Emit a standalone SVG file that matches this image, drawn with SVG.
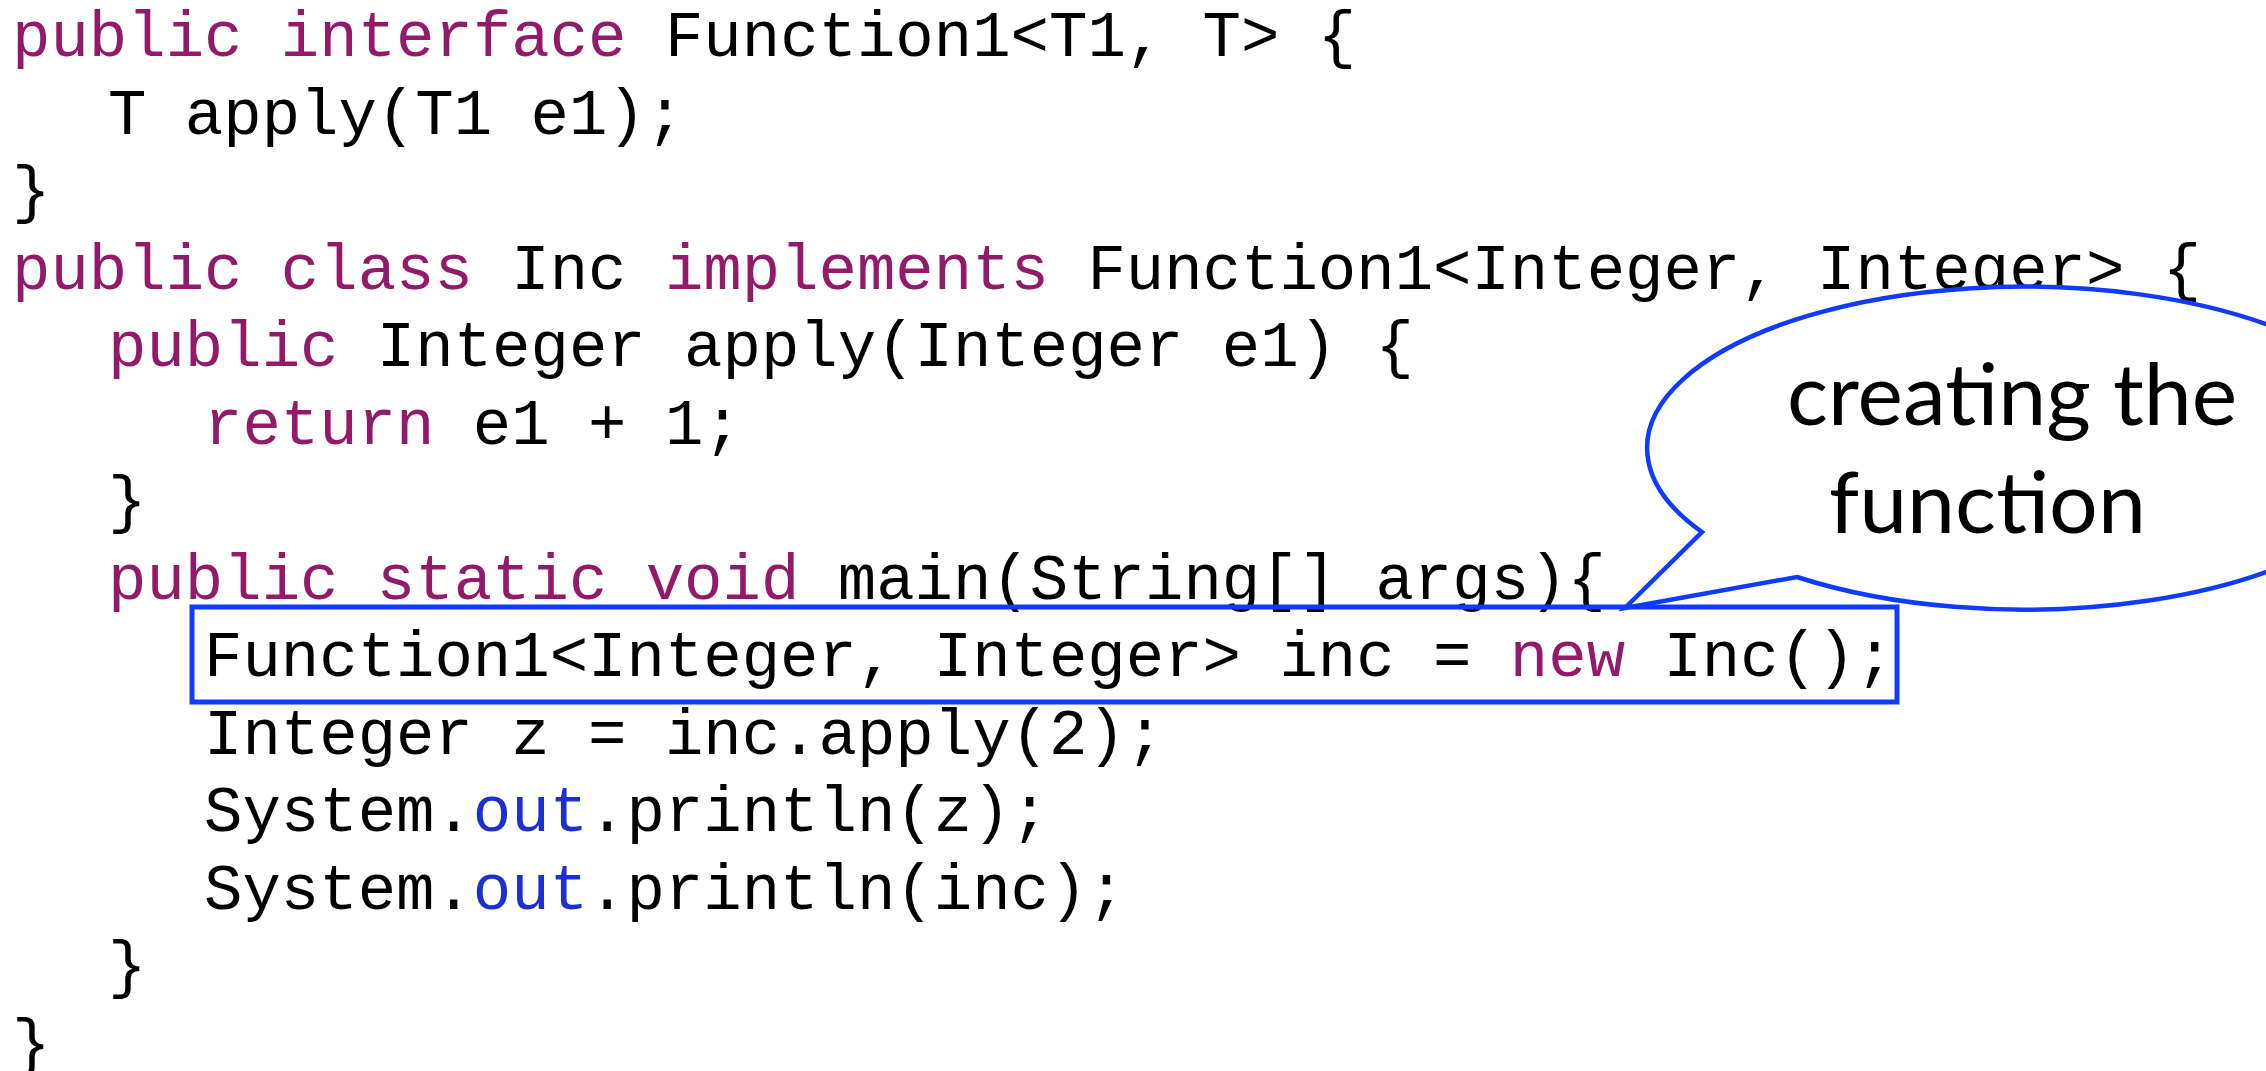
<svg xmlns="http://www.w3.org/2000/svg" width="2266" height="1071" viewBox="0 0 2266 1071">
  <style>
    .code { font-family: "Liberation Mono", "Courier New", monospace; font-size: 64px; fill: #000000; white-space: pre; }
    .kw { fill: #931A68; }
    .fld { fill: #1C30D0; }
    .hl { fill: none; stroke: #0F3BFF; stroke-width: 5; }
    .bubble { fill: #FFFFFF; stroke: #0F3BFF; stroke-width: 4.5; stroke-linejoin: miter; }
    .note { font-family: "Lato", "Open Sans", sans-serif; font-size: 86px; fill: #000000; }
  </style>
  <rect x="0" y="0" width="2266" height="1071" fill="#FFFFFF"/>
  <g id="code">
    <text class="code" x="12" y="56"><tspan class="kw">public interface</tspan> Function1&lt;T1, T&gt; {</text>
    <text class="code" x="108" y="133.5">T apply(T1 e1);</text>
    <text class="code" x="12" y="211">}</text>
    <text class="code" x="12" y="288.5"><tspan class="kw">public class</tspan> Inc <tspan class="kw">implements</tspan> Function1&lt;Integer, Integer&gt; {</text>
    <text class="code" x="108" y="366"><tspan class="kw">public</tspan> Integer apply(Integer e1) {</text>
    <text class="code" x="204" y="443.5"><tspan class="kw">return</tspan> e1 + 1;</text>
    <text class="code" x="108" y="521">}</text>
    <text class="code" x="108" y="598.5"><tspan class="kw">public static void</tspan> main(String[] args){</text>
    <text class="code" x="204" y="676">Function1&lt;Integer, Integer&gt; inc = <tspan class="kw">new</tspan> Inc();</text>
    <text class="code" x="204" y="753.5">Integer z = inc.apply(2);</text>
    <text class="code" x="204" y="831">System.<tspan class="fld">out</tspan>.println(z);</text>
    <text class="code" x="204" y="908.5">System.<tspan class="fld">out</tspan>.println(inc);</text>
    <text class="code" x="108" y="986">}</text>
    <text class="code" x="12" y="1063.5">}</text>
  </g>
  <g id="highlight-box">
    <rect class="hl" x="192" y="607" width="1705" height="95"/>
  </g>
  <g id="connectors">
    <g id="callout">
      <path class="bubble" d="M 1797 577 A 377 161.5 0 1 0 1702 532 L 1625 608 Z"/>
      <text class="note" x="1787" y="425">creating the</text>
      <text class="note" x="1829" y="533">function</text>
    </g>
  </g>
</svg>
